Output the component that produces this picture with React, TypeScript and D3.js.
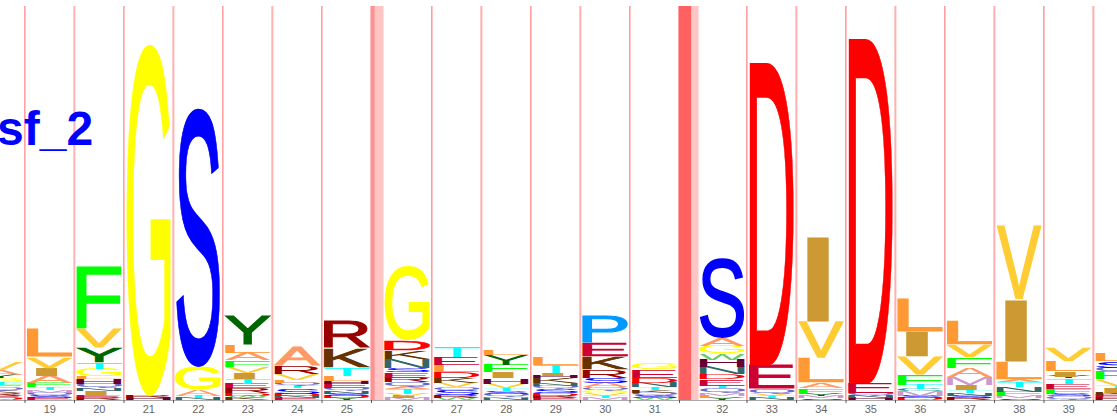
import React, { useEffect, useRef } from 'react';
import * as d3 from 'd3';

// model positions shown in the window (18 and 40 are cut by the edges)
const positions = [18, 19, 20, 21, 22, 23, 24, 25, 26, 27, 28, 29, 30, 31, 32, 33, 34, 35, 36, 37, 38, 39, 40];

// letter stacks, bottom to top, heights in bits
const c18: [string, number][] = [['D', 0.02], ['E', 0.03], ['R', 0.03], ['K', 0.03], ['Q', 0.03], ['F', 0.03], ['T', 0.03], ['G', 0.04], ['Y', 0.04], ['A', 0.05], ['V', 0.09]];
const c19: [string, number][] = [['E', 0.02], ['S', 0.03], ['Q', 0.03], ['M', 0.03], ['T', 0.03], ['F', 0.05], ['A', 0.08], ['I', 0.08], ['V', 0.13], ['L', 0.31]];
const c20: [string, number][] = [['R', 0.02], ['E', 0.03], ['I', 0.05], ['N', 0.03], ['Q', 0.05], ['H', 0.05], ['L', 0.03], ['G', 0.08], ['T', 0.07], ['Y', 0.17], ['V', 0.22], ['F', 0.69]];
const c21: [string, number][] = [['H', 0.02], ['R', 0.03], ['G', 3.9]];
const c22: [string, number][] = [['N', 0.02], ['T', 0.02], ['A', 0.07], ['G', 0.26], ['S', 2.91]];
const c23: [string, number][] = [['K', 0.02], ['W', 0.03], ['D', 0.03], ['R', 0.05], ['E', 0.05], ['T', 0.05], ['I', 0.07], ['V', 0.07], ['F', 0.07], ['A', 0.08], ['L', 0.09], ['Y', 0.33]];
const c24: [string, number][] = [['E', 0.02], ['N', 0.02], ['D', 0.03], ['S', 0.06], ['T', 0.03], ['Q', 0.03], ['L', 0.03], ['V', 0.07], ['R', 0.09], ['A', 0.22]];
const c25: [string, number][] = [['Y', 0.02], ['D', 0.02], ['S', 0.03], ['N', 0.03], ['Q', 0.03], ['E', 0.05], ['H', 0.03], ['L', 0.06], ['T', 0.09], ['K', 0.22], ['R', 0.3]];
const c26: [string, number][] = [['M', 0.02], ['I', 0.02], ['V', 0.03], ['T', 0.05], ['A', 0.03], ['Q', 0.05], ['R', 0.05], ['E', 0.06], ['S', 0.05], ['N', 0.1], ['K', 0.09], ['D', 0.12], ['G', 0.82]];
const c27: [string, number][] = [['W', 0.02], ['R', 0.03], ['S', 0.06], ['Q', 0.03], ['V', 0.05], ['K', 0.05], ['D', 0.07], ['L', 0.08], ['E', 0.09], ['T', 0.11]];
const c28: [string, number][] = [['N', 0.02], ['G', 0.02], ['Q', 0.03], ['S', 0.03], ['T', 0.03], ['V', 0.05], ['H', 0.06], ['I', 0.07], ['F', 0.08], ['Y', 0.11], ['L', 0.06]];
const c29: [string, number][] = [['E', 0.02], ['R', 0.03], ['D', 0.03], ['S', 0.05], ['Q', 0.03], ['N', 0.03], ['K', 0.05], ['H', 0.03], ['I', 0.03], ['T', 0.09], ['L', 0.08]];
const c30: [string, number][] = [['M', 0.02], ['T', 0.03], ['V', 0.03], ['G', 0.03], ['Q', 0.03], ['A', 0.05], ['S', 0.06], ['R', 0.09], ['K', 0.14], ['E', 0.16], ['P', 0.3]];
const c31: [string, number][] = [['W', 0.02], ['S', 0.03], ['Q', 0.03], ['K', 0.03], ['T', 0.03], ['N', 0.05], ['D', 0.06], ['E', 0.09], ['G', 0.07]];
const c32: [string, number][] = [['Y', 0.02], ['L', 0.03], ['M', 0.03], ['Q', 0.05], ['T', 0.03], ['E', 0.07], ['D', 0.06], ['N', 0.08], ['H', 0.08], ['W', 0.07], ['G', 0.08], ['A', 0.09], ['S', 0.89]];
const c33: [string, number][] = [['N', 0.02], ['T', 0.02], ['V', 0.02], ['Q', 0.06], ['E', 0.27], ['D', 3.36]];
const c34: [string, number][] = [['S', 0.02], ['M', 0.03], ['Y', 0.02], ['F', 0.06], ['A', 0.06], ['L', 0.28], ['V', 0.4], ['I', 0.94]];
const c35: [string, number][] = [['H', 0.02], ['N', 0.03], ['Q', 0.03], ['E', 0.11], ['D', 3.83]];
const c36: [string, number][] = [['D', 0.02], ['S', 0.03], ['M', 0.05], ['C', 0.02], ['T', 0.05], ['F', 0.11], ['V', 0.2], ['I', 0.28], ['L', 0.37]];
const c37: [string, number][] = [['R', 0.02], ['S', 0.03], ['N', 0.03], ['T', 0.03], ['I', 0.06], ['M', 0.09], ['A', 0.1], ['F', 0.11], ['V', 0.14], ['L', 0.27]];
const c38: [string, number][] = [['S', 0.02], ['M', 0.02], ['F', 0.05], ['N', 0.05], ['T', 0.06], ['A', 0.03], ['L', 0.2], ['I', 0.69], ['V', 0.81]];
const c39: [string, number][] = [['W', 0.01], ['Q', 0.03], ['S', 0.03], ['F', 0.05], ['E', 0.06], ['T', 0.06], ['Y', 0.02], ['I', 0.06], ['L', 0.11], ['V', 0.16]];
const c40: [string, number][] = [['R', 0.03], ['E', 0.03], ['K', 0.02], ['I', 0.05], ['T', 0.03], ['V', 0.07], ['F', 0.08], ['Q', 0.05], ['S', 0.07], ['L', 0.09]];

const stacks = [c18, c19, c20, c21, c22, c23, c24, c25, c26, c27, c28, c29, c30, c31, c32, c33, c34, c35, c36, c37, c38, c39, c40];

// insert states between neighbouring positions (18|19 ... 39|40)
const insertLen = [0, 0, 0, 0, 0, 0, 0, 1.0, 0, 0, 0, 0, 0, 1.64, 0, 0, 0, 0, 0, 0, 0, 0];
const insertProb = [0.3, 0.3, 0.3, 0.3, 0.3, 0.3, 0.3, 0.45, 0.35, 0.35, 0.35, 0.35, 0.35, 0.9, 0.35, 0.35, 0.35, 0.35, 0.35, 0.35, 0.35, 0.35];

const aaColors: Record<string, string> = {
    A: '#FF9966', C: '#009999', D: '#FF0000', E: '#CC0033', F: '#00FF00',
    G: '#FFFF00', H: '#660033', I: '#CC9933', K: '#663300', L: '#FF9933',
    M: '#CC99CC', N: '#336666', P: '#0099FF', Q: '#6666CC', R: '#990000',
    S: '#0000FF', T: '#00FFFF', V: '#FFCC33', W: '#66CC66', Y: '#006600'
};

const FONT = 'Liberation Sans';

export default function App() {
    const svgRef = useRef<SVGSVGElement>(null);
    const width = 1117;
    const height = 418;

    useEffect(() => {
        const svg = d3.select(svgRef.current);
        svg.selectAll('*').remove();

        const colW = 47.5;
        const baseY = 400;
        const topY = 6;
        const yScale = d3.scaleLinear().domain([0, 4]).range([baseY, 40]);
        const gapScale = d3.scaleLinear().domain([0, 1]).range([2, 13]);

        // column x positions from widths of columns + insert gaps
        const gapW = insertLen.map(v => gapScale(v));
        const steps = positions.map((p, i) => colW + (i < gapW.length ? gapW[i] : 0));
        const starts = [0, ...Array.from(d3.cumsum(steps))].map(v => v - 23.5);
        const colX = positions.map((p, i) => starts[i]);

        // measure real ink bounds of each glyph
        const canvas = document.createElement('canvas');
        const ctx = canvas.getContext('2d')!;
        ctx.font = `100px "${FONT}"`;
        const ink: Record<string, { l: number; r: number; a: number; d: number }> = {};
        Object.keys(aaColors).forEach(ch => {
            const m = ctx.measureText(ch);
            ink[ch] = { l: -m.actualBoundingBoxLeft, r: m.actualBoundingBoxRight, a: m.actualBoundingBoxAscent, d: m.actualBoundingBoxDescent };
        });

        // insert bands
        const inserts = svg.append('g');
        gapW.forEach((w, i) => {
            const x = colX[i] + colW;
            inserts.append('rect')
                .attr('x', x).attr('y', topY)
                .attr('width', w).attr('height', baseY - topY)
                .attr('fill', '#ffc4c4');
            inserts.append('rect')
                .attr('x', x).attr('y', topY)
                .attr('width', Math.max(1, w * insertProb[i] * 0.7))
                .attr('height', baseY - topY)
                .attr('fill', '#ff5555')
                .attr('opacity', insertProb[i]);
        });

        // letters
        const letters = svg.append('g');
        stacks.forEach((stack, ci) => {
            let acc = 0;
            stack.forEach(([ch, bits]) => {
                const y0 = yScale(acc);
                const y1 = yScale(acc + bits);
                acc += bits;
                const h = y0 - y1;
                const sw = h > 10 ? 1.6 : 0;
                let x0 = colX[ci] + 1;
                let w = colW - 2;
                if (ch === 'I') {
                    w = colW * 0.47;
                    x0 = colX[ci] + (colW - w) / 2 - 3;
                }
                const b = ink[ch];
                const sx = (w - sw) / (b.r - b.l);
                const sy = (h - sw) / (b.a + b.d);
                letters.append('text')
                    .attr('font-family', `${FONT}, Arial, sans-serif`)
                    .attr('font-size', 100)
                    .attr('fill', aaColors[ch])
                    .attr('stroke', sw ? aaColors[ch] : 'none')
                    .attr('stroke-width', sw)
                    .attr('vector-effect', 'non-scaling-stroke')
                    .attr('transform', `translate(${x0 + sw / 2},${y1 + sw / 2}) scale(${sx},${sy}) translate(${-b.l},${b.a})`)
                    .text(ch);
            });
        });

        // axis
        svg.append('line')
            .attr('x1', 0).attr('x2', width)
            .attr('y1', baseY + 0.5).attr('y2', baseY + 0.5)
            .attr('stroke', '#aaaaaa').attr('stroke-width', 1.2);

        gapW.forEach((w, i) => {
            const x = colX[i] + colW + 1;
            svg.append('line')
                .attr('x1', x).attr('x2', x)
                .attr('y1', baseY).attr('y2', baseY + 3)
                .attr('stroke', '#555').attr('stroke-width', 1);
        });

        svg.append('g').selectAll('text')
            .data(positions.slice(1))
            .enter().append('text')
            .attr('x', (d, i) => colX[i + 1] + colW / 2)
            .attr('y', 413)
            .attr('text-anchor', 'middle')
            .attr('font-family', 'Liberation Sans, Arial, sans-serif')
            .attr('font-size', 11)
            .attr('fill', '#666')
            .text(d => d);

        // model name
        svg.append('text')
            .attr('x', -3)
            .attr('y', 145)
            .attr('font-family', 'Liberation Sans, Arial, sans-serif')
            .attr('font-weight', 'bold')
            .attr('font-size', 48)
            .attr('fill', '#0000FF')
            .text('sf_2');
    }, []);

    return (
        <svg ref={svgRef} width={width} height={height}
            style={{ position: 'absolute', left: 0, top: 0, background: '#fff' }} />
    );
}
